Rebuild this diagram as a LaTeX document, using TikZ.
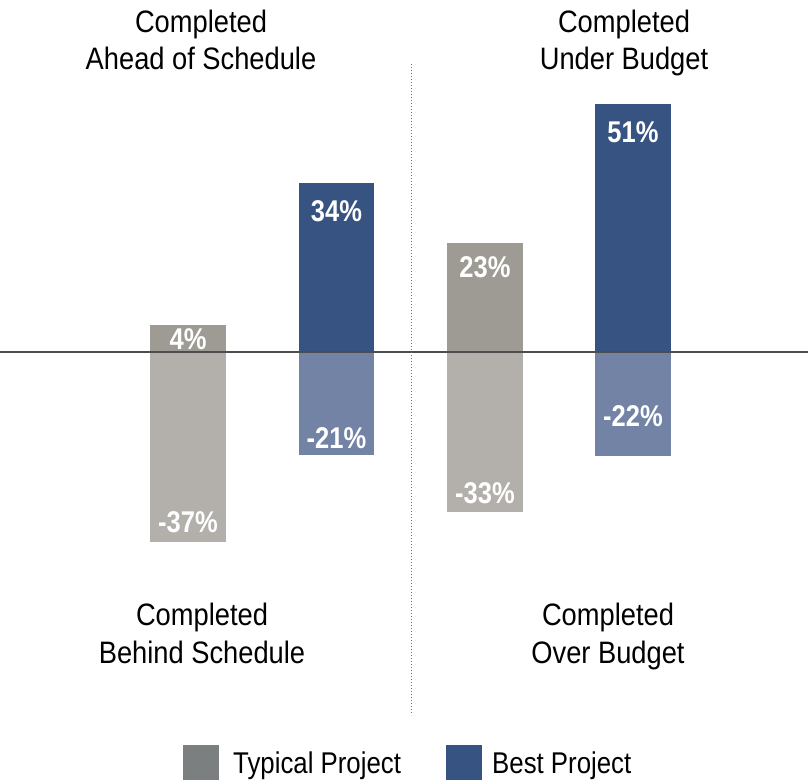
\documentclass[tikz,border=0pt]{standalone}
\usepackage{fontspec}
\setmainfont[FakeStretch=0.88]{Liberation Sans}
\newfontfamily\legfont[FakeStretch=0.86]{Liberation Sans}
\newfontfamily\labfont[FakeStretch=0.85]{Liberation Sans}
\definecolor{typpos}{HTML}{9E9B94}
\definecolor{typneg}{HTML}{B3B0AB}
\definecolor{bestpos}{HTML}{375381}
\definecolor{bestneg}{HTML}{7283A6}
\definecolor{typleg}{HTML}{7B7F80}
\definecolor{axisgray}{HTML}{4D4D4D}
\definecolor{dotgray}{HTML}{707070}
\tikzset{
  title/.style={anchor=base, inner sep=0pt, font=\fontsize{31}{36}\selectfont},
  vallab/.style={anchor=base, inner sep=0pt, text=white, font=\labfont\bfseries\fontsize{30}{34}\selectfont},
  legtext/.style={anchor=base west, inner sep=0pt, font=\legfont\fontsize{30}{34}\selectfont},
  legbox/.style={anchor=north west, inner sep=0pt, minimum width=36pt, minimum height=40pt},
}
\begin{document}
\begin{tikzpicture}[x=1pt,y=-1pt]
\useasboundingbox (0,0) rectangle (808,779);
% bars
\fill[typpos] (150,325) rectangle (226,352);
\fill[typneg] (150,352) rectangle (226,542);
\fill[bestpos] (299,183) rectangle (374,352);
\fill[bestneg] (299,352) rectangle (374,455);
\fill[typpos] (447,243) rectangle (523,352);
\fill[typneg] (447,352) rectangle (523,512);
\fill[bestpos] (595,104) rectangle (671,352);
\fill[bestneg] (595,352) rectangle (671,456);
% axis
\coordinate (axL) at (0,352);
\coordinate (axR) at (808,352);
\draw[axisgray, line width=1.3pt] (axL) -- (axR);
% divider
\coordinate (dvT) at (411,64);
\coordinate (dvB) at (411,715);
\draw[dotgray, line width=1pt, dash pattern=on 1pt off 2pt] (dvT) -- (dvB);
% value labels
\node[vallab] (l4) at (188,349) {4\%};
\node[vallab] (l37) at (188,532) {-37\%};
\node[vallab] (l34) at (336.5,221) {34\%};
\node[vallab] (l21) at (336.5,448) {-21\%};
\node[vallab] (l23) at (485,277) {23\%};
\node[vallab] (l33) at (485,503) {-33\%};
\node[vallab] (l51) at (633,142) {51\%};
\node[vallab] (l22) at (633,426) {-22\%};
% titles
\node[title] (t1a) at (201,32) {Completed};
\node[title] (t1b) at (201,69) {Ahead of Schedule};
\node[title] (t2a) at (624,32) {Completed};
\node[title] (t2b) at (624,69) {Under Budget};
\node[title] (t3a) at (202,625) {Completed};
\node[title] (t3b) at (202,663) {Behind Schedule};
\node[title] (t4a) at (608,625) {Completed};
\node[title] (t4b) at (608,663) {Over Budget};
% legend
\node[legbox, fill=typleg] (lg1) at (183,745) {};
\node[legtext] (lt1) at (233,773) {Typical Project};
\node[legbox, fill=bestpos] (lg2) at (446,745) {};
\node[legtext] (lt2) at (492,773) {Best Project};
\end{tikzpicture}
\end{document}
